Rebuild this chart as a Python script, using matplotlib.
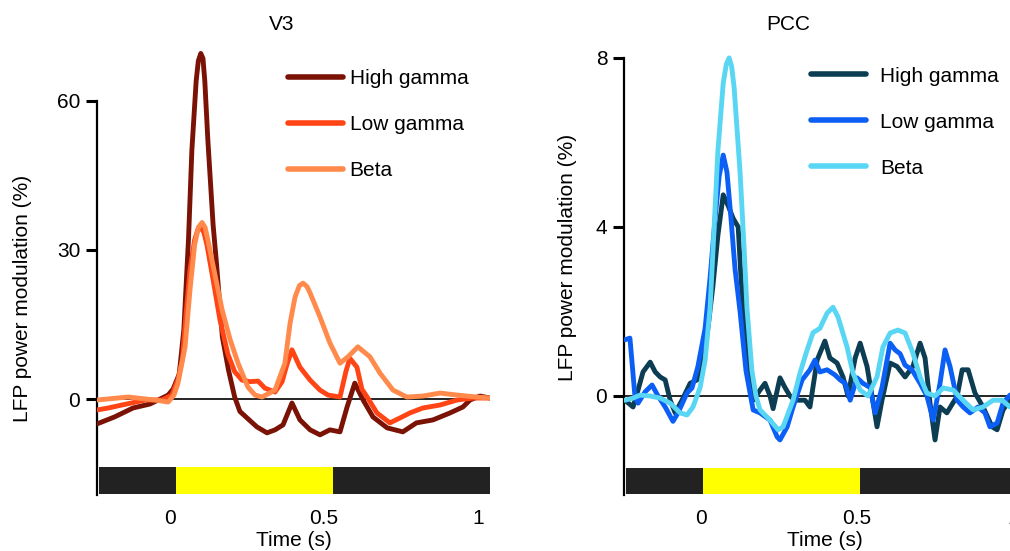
import matplotlib
matplotlib.use("Agg")
import matplotlib.pyplot as plt

plt.rcParams['font.family'] = ['Liberation Sans', 'DejaVu Sans']
plt.rcParams['font.size'] = 15

# ---------------- V3 (left) ----------------
v3_hg_t = [-0.237, -0.18, -0.12, -0.065, -0.032, -0.006, 0.01, 0.03, 0.045, 0.055, 0.06, 0.071, 0.085,
           0.092, 0.10, 0.107, 0.113, 0.123, 0.14, 0.15, 0.17, 0.19, 0.21, 0.227, 0.25, 0.282, 0.315,
           0.341, 0.367, 0.396, 0.422, 0.455, 0.487, 0.519, 0.552, 0.575, 0.60, 0.627, 0.659, 0.705,
           0.756, 0.80, 0.854, 0.909, 0.951, 0.974, 1.006, 1.039]
v3_hg = [-5.0, -3.6, -1.8, -1.0, 0.0, 0.8, 2.0, 5.0, 14.0, 26.0, 32.0, 50.0, 64.0,
         68.0, 69.5, 68.5, 64.0, 52.0, 35.0, 28.0, 12.5, 5.8, 0.4, -2.5, -3.8, -5.6, -6.8,
         -6.2, -5.2, -0.8, -4.2, -6.2, -7.2, -6.2, -6.6, -1.6, 3.2, -0.2, -3.6, -5.8,
         -6.6, -4.8, -4.2, -2.8, -1.6, -0.2, 0.6, 0.2]

v3_lg_t = [-0.237, -0.20, -0.156, -0.08, -0.026, 0.006, 0.026, 0.04, 0.052, 0.065, 0.08, 0.09, 0.10,
           0.11, 0.12, 0.14, 0.162, 0.188, 0.21, 0.234, 0.26, 0.286, 0.308, 0.341, 0.364, 0.38, 0.396,
           0.422, 0.455, 0.487, 0.513, 0.552, 0.571, 0.584, 0.607, 0.623, 0.64, 0.672, 0.714, 0.747,
           0.779, 0.821, 0.877, 0.932, 0.984, 1.039]
v3_lg = [-2.2, -1.8, -1.2, -0.2, -0.2, 0.8, 4.0, 8.0, 17.0, 26.0, 32.0, 34.0, 34.5,
         33.5, 31.0, 24.0, 16.0, 9.0, 5.5, 3.8, 3.5, 3.6, 2.2, 1.4, 3.5, 7.0, 9.9,
         6.4, 3.8, 1.8, 0.8, 0.4, 5.5, 8.2, 6.4, 2.0, 0.4, -2.8, -4.8, -3.8,
         -2.8, -1.8, -1.2, -0.2, 0.2, 0.2]

v3_beta_t = [-0.237, -0.136, -0.049, -0.006, 0.013, 0.026, 0.049, 0.065, 0.08, 0.092, 0.104, 0.114,
             0.123, 0.146, 0.169, 0.195, 0.221, 0.253, 0.276, 0.299, 0.341, 0.373, 0.39, 0.406, 0.42,
             0.432, 0.445, 0.455, 0.487, 0.519, 0.552, 0.578, 0.61, 0.649, 0.682, 0.724, 0.769, 0.821,
             0.877, 0.932, 0.997, 1.039]
v3_beta = [-0.2, 0.4, -0.2, -0.6, 0.8, 3.2, 10.5, 22.0, 31.0, 34.5, 35.5, 34.5,
           32.0, 25.0, 18.0, 12.0, 7.2, 2.4, 0.8, 0.4, 1.8, 7.2, 15.3, 20.5, 22.8,
           23.3, 22.6, 21.3, 16.5, 11.3, 7.2, 8.5, 10.5, 8.5, 5.2, 1.8, 0.4, 0.6,
           1.2, 0.8, 0.4, 0.2]

# ---------------- PCC (right) ----------------
pcc_hg_t = [-0.244, -0.218, -0.202, -0.186, -0.163, -0.147, -0.131, -0.115, -0.099, -0.083, -0.061,
            -0.035, -0.013, 0.006, 0.022, 0.038, 0.054, 0.071, 0.087, 0.103, 0.119, 0.128, 0.144,
            0.167, 0.189, 0.205, 0.221, 0.231, 0.253, 0.269, 0.285, 0.301, 0.333, 0.349, 0.372,
            0.397, 0.413, 0.436, 0.455, 0.471, 0.494, 0.51, 0.532, 0.548, 0.564, 0.58, 0.606,
            0.628, 0.654, 0.679, 0.702, 0.718, 0.734, 0.75, 0.766, 0.788, 0.821, 0.837, 0.856,
            0.878, 0.904, 0.933, 0.949, 0.968, 0.99, 1.02]
pcc_hg = [-0.1, -0.26, 0.14, 0.57, 0.8, 0.57, 0.45, 0.38, -0.1, -0.4, -0.1,
          0.3, 0.38, 0.85, 1.6, 2.6, 3.8, 4.76, 4.5, 4.2, 4.0, 2.8, 1.2,
          -0.1, 0.14, 0.3, 0.0, -0.3, 0.43, 0.2, 0.0, -0.1, -0.1, -0.26, 0.85,
          1.3, 0.9, 0.78, 0.45, 0.0, 0.9, 1.25, 0.7, 0.0, -0.73, -0.1, 0.78,
          0.7, 0.45, 0.7, 1.25, 0.9, -0.17, -1.04, -0.26, -0.4, 0.0, 0.62, 0.62,
          0.07, -0.26, -0.73, -0.8, -0.33, -0.1, 0.0]

pcc_lg_t = [-0.244, -0.228, -0.212, -0.202, -0.179, -0.157, -0.138, -0.115, -0.09, -0.074, -0.045,
            -0.029, -0.01, 0.013, 0.029, 0.045, 0.058, 0.071, 0.083, 0.096, 0.109, 0.125, 0.144,
            0.167, 0.189, 0.221, 0.244, 0.253, 0.276, 0.295, 0.324, 0.349, 0.365, 0.381, 0.404,
            0.429, 0.446, 0.462, 0.478, 0.5, 0.519, 0.542, 0.558, 0.58, 0.606, 0.622, 0.638,
            0.654, 0.676, 0.702, 0.724, 0.744, 0.766, 0.782, 0.798, 0.821, 0.84, 0.862, 0.888,
            0.91, 0.926, 0.949, 0.968, 0.99, 1.02]
pcc_lg = [1.33, 1.37, 0.0, -0.17, 0.1, 0.26, 0.0, -0.26, -0.6, -0.4, 0.07,
          0.19, 0.7, 1.6, 2.8, 4.2, 5.2, 5.7, 5.3, 4.2, 3.0, 2.0, 0.6,
          -0.33, -0.4, -0.57, -0.97, -1.04, -0.73, -0.26, 0.38, 0.62, 0.85, 0.57, 0.62,
          0.5, 0.38, 0.3, -0.1, 0.43, 0.3, 0.2, -0.4, 0.2, 1.25, 1.09, 1.0,
          0.73, 0.62, 0.3, 0.0, -0.57, 0.3, 1.09, 0.7, -0.1, -0.26, -0.4, -0.26,
          -0.4, -0.73, -0.64, -0.17, 0.02, 0.1]

pcc_beta_t = [-0.244, -0.218, -0.196, -0.163, -0.131, -0.099, -0.067, -0.045, -0.026, -0.003, 0.013,
              0.029, 0.042, 0.054, 0.071, 0.081, 0.09, 0.098, 0.106, 0.125, 0.138, 0.147, 0.163, 0.176,
              0.189, 0.221, 0.247, 0.263, 0.295, 0.317, 0.34, 0.359, 0.381, 0.404, 0.423, 0.439, 0.468,
              0.487, 0.51, 0.535, 0.564, 0.583, 0.606, 0.631, 0.654, 0.679, 0.702, 0.724, 0.75,
              0.776, 0.808, 0.84, 0.872, 0.904, 0.936, 0.965, 0.99, 1.02]
pcc_beta = [-0.1, -0.05, 0.02, 0.0, -0.05, -0.17, -0.4, -0.45, -0.26, 0.2, 0.85,
            2.1, 4.0, 5.8, 7.4, 7.85, 8.0, 7.8, 7.3, 5.3, 3.5, 2.1, 0.6, 0.0,
            -0.33, -0.57, -0.8, -0.73, -0.1, 0.54, 1.09, 1.5, 1.6, 1.96, 2.1, 1.87, 1.16,
            0.54, 0.14, 0.0, 0.45, 1.16, 1.49, 1.56, 1.49, 1.02, 0.45, 0.07, 0.0,
            0.19, 0.14, -0.1, -0.33, -0.26, -0.1, -0.1, -0.26, -0.2]

labels = ['High gamma', 'Low gamma', 'Beta']
v3_colors = ['#7a1206', '#ff4515', '#ff8a4c']
pcc_colors = ['#0c3d52', '#0b5ff5', '#58d6f4']

# stimulus bar: baseline / stimulus / post
v3_epochs = [-0.232, 0.02, 0.53, 1.039]
pcc_epochs = [-0.242, 0.007, 0.51, 1.04]
epoch_colors = ['#222222', '#ffff00', '#222222']

fig = plt.figure(figsize=(10.1, 5.51), dpi=100)
ax1 = fig.add_axes([97 / 1010, 56 / 551, 393 / 1010, 454 / 551])
ax2 = fig.add_axes([624 / 1010, 56 / 551, 401.5 / 1010, 454 / 551])


def style_panel(ax, title, title_x, xlim, ylim, yticks, bar_h, epochs, series, colors,
                leg_anchor, leg_pad, lab_xy):
    ts, vs = series
    ax.axhline(0, color='black', lw=1.2, zorder=1)
    for t, v, c, lab in zip(ts, vs, colors, labels):
        ax.plot(t, v, color=c, lw=3.5, label=lab, solid_capstyle='round',
                solid_joinstyle='round', zorder=3)
    segs = [(epochs[i], epochs[i + 1] - epochs[i]) for i in range(len(epochs) - 1)]
    ax.broken_barh(segs, (ylim[0] + bar_h * 0.04, bar_h), facecolors=epoch_colors,
                   edgecolor='none', zorder=2)
    ax.set_xlim(*xlim)
    ax.set_ylim(*ylim)
    for s in ['top', 'right', 'bottom']:
        ax.spines[s].set_visible(False)
    ax.spines['left'].set_bounds(ylim[0], yticks[-1])
    ax.spines['left'].set_linewidth(1.6)
    ax.set_yticks(yticks)
    ax.tick_params(axis='y', length=8, width=2.2, pad=4, labelsize=15)
    ax.set_xticks([0, 0.5, 1])
    ax.set_xticklabels(['0', '0.5', '1'])
    ax.tick_params(axis='x', length=0, pad=10, labelsize=15)
    ax.set_xlabel('Time (s)', fontsize=15, labelpad=2.5)
    ax.set_ylabel('LFP power modulation (%)', fontsize=15)
    ax.yaxis.set_label_coords(*lab_xy)
    ax.set_title(title, fontsize=15, x=title_x, pad=8)
    leg = ax.legend(loc='upper left', bbox_to_anchor=leg_anchor, frameon=False, fontsize=15,
                    handlelength=2.65, handletextpad=leg_pad, labelspacing=1.3, borderaxespad=0)
    for h in leg.get_lines():
        h.set_linewidth(4)


style_panel(ax1, 'V3', 0.471, (-0.237, 1.039), (-19.3, 72.0), [0, 30, 60], 5.4, v3_epochs,
            ([v3_hg_t, v3_lg_t, v3_beta_t], [v3_hg, v3_lg, v3_beta]), v3_colors,
            (0.465, 0.957), 0.3, (-0.165, 0.432))
style_panel(ax2, 'PCC', 0.408, (-0.247, 1.04), (-2.343, 8.40), [0, 4, 8], 0.62, pcc_epochs,
            ([pcc_hg_t, pcc_lg_t, pcc_beta_t], [pcc_hg, pcc_lg, pcc_beta]), pcc_colors,
            (0.445, 0.962), 0.65, (-0.117, 0.524))

fig.savefig('out.png', dpi=100)
